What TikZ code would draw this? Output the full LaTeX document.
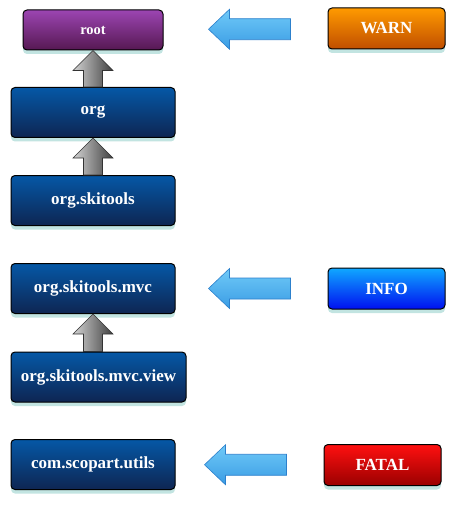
\documentclass[tikz,border=0pt]{standalone}
\usepackage{fontspec}
\setmainfont{Liberation Serif}
\usetikzlibrary{calc,shadows}

\definecolor{pkgtop}{HTML}{0558A6}
\definecolor{pkgbot}{HTML}{0E2552}
\definecolor{roottop}{HTML}{9C45B2}
\definecolor{rootbot}{HTML}{561852}
\definecolor{warntop}{HTML}{FF9A00}
\definecolor{warnbot}{HTML}{C04E00}
\definecolor{infotop}{HTML}{10A8FF}
\definecolor{infobot}{HTML}{0010F0}
\definecolor{fataltop}{HTML}{FF1010}
\definecolor{fatalbot}{HTML}{9A0000}
\definecolor{glow}{HTML}{A8D8D4}
\definecolor{settop}{HTML}{70CAF8}
\definecolor{setbot}{HTML}{3A9CE4}
\definecolor{setline}{HTML}{2C80CC}

% grey arrow: child #1 up to parent #2
\newcommand{\parentarrow}[2]{%
  \draw[parent] let \p1=(#1.north), \p2=(#2.south) in
    (\x2-9.5pt,\y1) -- (\x2-9.5pt,\y2-20pt) -- (\x2-20pt,\y2-20pt) -- (\x2,\y2)
    -- (\x2+20pt,\y2-20pt) -- (\x2+9.5pt,\y2-20pt) -- (\x2+9.5pt,\y1) -- cycle;}

% blue arrow: level #1 pointing at logger #2
\newcommand{\levelarrow}[2]{%
  \draw[setlevel] let \p1=(#1.west), \p2=($(#1.west)!.5!(#2.east)$) in
    (\x1-37pt,\y2+10.5pt) -- (\x1-98pt,\y2+10.5pt) -- (\x1-98pt,\y2+20pt)
    -- (\x1-119pt,\y2) -- (\x1-98pt,\y2-20pt) -- (\x1-98pt,\y2-10.5pt)
    -- (\x1-37pt,\y2-10.5pt) -- cycle;}

\begin{document}
\begin{tikzpicture}[x=1pt, y=-1pt,
  box/.style={draw=black, line width=1pt, rounded corners=4pt, text=white,
              inner sep=0pt, shading angle=30,
              drop shadow={shadow xshift=0pt, shadow yshift=-4pt,
                           fill=glow, opacity=0.7}},
  pkg/.style={box, top color=pkgtop, bottom color=pkgbot,
              minimum width=164pt, minimum height=50pt,
              font=\fontsize{17}{18}\selectfont\bfseries},
  lvl/.style={box, top color=#1top, bottom color=#1bot,
              minimum width=117pt, minimum height=41pt,
              font=\fontsize{17}{18}\selectfont\bfseries},
  parent/.style={draw=black!80, line width=0.6pt,
                 left color=gray!35, right color=black!75},
  setlevel/.style={draw=setline, line width=0.6pt,
                   top color=settop, bottom color=setbot},
]
\useasboundingbox (0,0) rectangle (456,505);

% loggers
\node[box, top color=roottop, bottom color=rootbot, minimum width=140pt,
      minimum height=40pt, font=\fontsize{14.5}{16}\selectfont\bfseries]
      (root) at (93,30) {root};
\node[pkg] (org)   at (93,112.5) {org};
\node[pkg] (ski)   at (93,200.5) {org.skitools};
\node[pkg] (mvc)   at (93,288.5) {org.skitools.mvc};
\node[pkg, minimum width=175pt] (view) at (98.5,377) {org.skitools.mvc.view};
\node[pkg] (utils) at (93,464.5) {com.scopart.utils};

% levels
\node[lvl=warn]  (warn)  at (386.5,28.5)  {WARN};
\node[lvl=info]  (info)  at (386.5,288.5) {INFO};
\node[lvl=fatal] (fatal) at (382.5,465)   {FATAL};

% hierarchy
\foreach \kid/\up in {org/root, ski/org, view/mvc}
  \parentarrow{\kid}{\up};

% assigned levels
\foreach \lv/\lg in {warn/root, info/mvc, fatal/utils}
  \levelarrow{\lv}{\lg};
\end{tikzpicture}
\end{document}
